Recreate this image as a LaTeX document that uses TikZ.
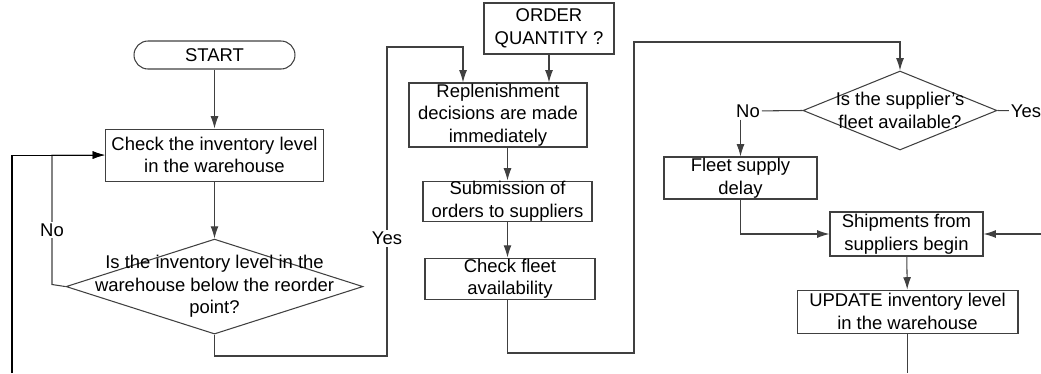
\documentclass[tikz,border=0pt]{standalone}
\usepackage{fontspec}
\setmainfont{Liberation Sans}
\usetikzlibrary{arrows.meta,positioning,shapes.geometric}

\begin{document}
\begin{tikzpicture}[x=0.02cm,y=-0.02cm,>={Latex[length=7pt,width=4.5pt]},
  font=\fontsize{10.5}{12.8}\selectfont,
  box/.style={draw=black!75,line width=0.6pt,inner sep=0pt,align=center},
  terminal/.style={box,rounded corners=0.28cm,minimum width=3.22cm,minimum height=0.56cm},
  decision/.style={draw=black!75,line width=0.6pt,diamond,inner sep=0pt},
  lbl/.style={fill=white,inner sep=1pt},
  link/.style={draw=black!75,line width=0.6pt}]
  \useasboundingbox (0,0) rectangle (1041,373);

  % left column
  \node[terminal] (start) at (214.5,55) {START};
  \node[box,minimum width=4.36cm,minimum height=1.04cm,below=1.18cm of start] (check)
    {Check the inventory level\\in the warehouse};
  \node[decision,minimum width=5.94cm,minimum height=1.9cm,below=1.14cm of check,
    label={[align=center]center:Is the inventory level in the\\warehouse below the reorder\\point?}] (dec1) {};

  % middle column
  \node[box,minimum width=2.6cm,minimum height=1.02cm] (order) at (549,28.5) {ORDER\\QUANTITY ?};
  \node[box,minimum width=3.56cm,minimum height=1.28cm] (repl) at (498,115)
    {Replenishment\\decisions are made\\immediately};
  \node[box,minimum width=3.38cm,minimum height=0.8cm,below=0.66cm of repl,xshift=0.19cm] (sub)
    {Submission of\\orders to suppliers};
  \node[box,minimum width=3.4cm,minimum height=0.82cm,below=0.72cm of sub,xshift=0.05cm] (fleet)
    {Check fleet\\availability};

  % right column
  \node[decision,minimum width=3.88cm,minimum height=1.58cm,
    label={[align=center]center:Is the supplier's\\fleet available?}] (dec2) at (900,110.5) {};
  \node[inner sep=1pt] (no2) at (748,111) {No};
  \node[inner sep=1pt] (yes2) at (1026,111) {Yes};
  \node[box,minimum width=3.06cm,minimum height=0.84cm] (delay) at (740.5,178) {Fleet supply\\delay};
  \node[box,minimum width=3.06cm,minimum height=0.88cm] (ship) at (906.5,234) {Shipments from\\suppliers begin};
  \node[box,minimum width=4.42cm,minimum height=0.86cm,below=0.66cm of ship,xshift=0.02cm] (update)
    {UPDATE inventory level\\in the warehouse};

  % bends and loose ends
  \coordinate (loopout) at (907.5,373);
  \coordinate (loopin) at (12,373);
  \coordinate (shipin) at (1041,234);
  \coordinate (nobend) at (52,284.5);
  \coordinate (yesdown) at (387,356);
  \coordinate (yesup) at (387,47);
  \coordinate (fleetdown) at (634,353);
  \coordinate (fleetup) at (634,42);

  \draw[link,->] (start) -- (check);
  \draw[link,->] (check) -- (dec1);
  \draw[link,->] (dec1.west) -- (nobend) |- node[lbl,pos=0.21]{No} (check.west);
  \draw[->,line width=0.6pt] (loopin) |- (check.west);
  \draw[link,->] (dec1.south) |- (yesdown) -- node[lbl,pos=0.38]{Yes} (yesup) -| ([xshift=-0.7cm]repl.north);
  \draw[link,->] (order) -- (order.south |- repl.north);
  \draw[link,->] (sub.north |- repl.south) -- (sub);
  \draw[link,->] (sub.south) -- (sub.south |- fleet.north);
  \draw[link,->] (sub.south |- fleet.south) |- (fleetdown) -- (fleetup) -| (dec2);
  \draw[link] (dec2.west) -- (no2);
  \draw[link,->] (delay.north |- no2.south) -- (delay);
  \draw[link] (dec2.east) -- (yes2);
  \draw[link,->] (delay) |- (ship);
  \draw[link,->] (shipin) -- (ship);
  \draw[link,->] (ship) -- (update);
  \draw[link] (update) -- (loopout);
\end{tikzpicture}
\end{document}
